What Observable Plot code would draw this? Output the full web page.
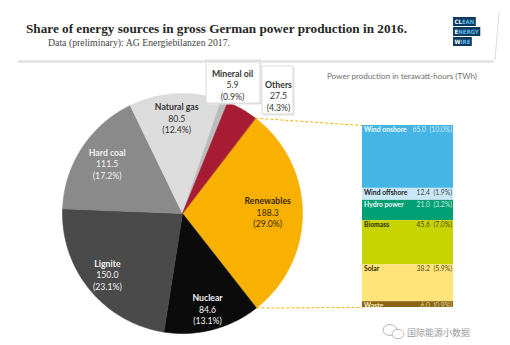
<!DOCTYPE html>
<html><head><meta charset="utf-8">
<script src="https://cdn.jsdelivr.net/npm/d3@7"></script>
<script src="https://cdn.jsdelivr.net/npm/@observablehq/plot@0.6"></script>
<style>
html,body{margin:0;padding:0;background:#fff;}
#wrap{position:relative;width:510px;height:345px;overflow:hidden;background:#fff;}
#wrap > svg{position:absolute;left:0;top:0;}
</style></head><body><div id="wrap"></div>
<script>
// ---------- data ----------
const sources = ["Renewables","Nuclear","Lignite","Hard coal","Natural gas","Mineral oil","Others"];
const sourceTWh = [188.3, 84.6, 150.0, 111.5, 80.5, 5.9, 27.5];
const sourcePct = [29.0, 13.1, 23.1, 17.2, 12.4, 0.9, 4.3];
const renewables = ["Wind onshore","Wind offshore","Hydro power","Biomass","Solar","Waste"];
const renewTWh = [65.0, 12.4, 21.0, 45.6, 38.2, 6.0];
const renewPct = [10.0, 1.9, 3.2, 7.0, 5.9, 0.9];
const titleText = "Share of energy sources in gross German power production in 2016.";
const subtitleText = "Data (preliminary): AG Energiebilanzen 2017.";
const unitText = "Power production in terawatt-hours (TWh)";
const watermarkText = "国际能源小数据";
const logoWords = ["CLEAN","ENERGY","WIRE"];

// ---------- layout & style ----------
const W = 510, H = 345;
const cx = 182, cy = 213, R = 120;
const startDeg = 37.4;
const pieColors = {"Renewables":"#f8b100","Nuclear":"#0b0b0b","Lignite":"#4a4a4a","Hard coal":"#8a8a8a",
  "Natural gas":"#dcdcdc","Mineral oil":"#bcbcbc","Others":"#a51c33"};
const pieText = {"Renewables":"#3b2a00","Nuclear":"#f2f2f2","Lignite":"#f2f2f2","Hard coal":"#f2f2f2",
  "Natural gas":"#333","Mineral oil":"#333","Others":"#333"};
const labelRadius = {"Renewables":0.71,"Nuclear":0.83,"Lignite":0.81,"Hard coal":0.75,"Natural gas":0.79};
const calloutCenter = {"Mineral oil":[232,85],"Others":[278,96]};
const calloutBox = {"Mineral oil":[206,260,60,103],"Others":[262,293,66,114]};
const barColors = {"Wind onshore":"#45b5e5","Wind offshore":"#c9e7f6","Hydro power":"#00a074","Biomass":"#c8d400",
  "Solar":"#ffe47a","Waste":"#8a6410"};
const barText = {"Wind onshore":"#eef8fd","Wind offshore":"#222","Hydro power":"#f2fbf7","Biomass":"#2a2a00",
  "Solar":"#2a2a00","Waste":"#f6ecc8"};
const sans = "Lato, 'Open Sans', sans-serif";

// ---------- scales ----------
const xPie = {domain:[-1,1], range:[cx-R, cx+R]};
const yPie = {domain:[-1,1], range:[cy+R, cy-R]};
const pieXs = Plot.scale({x: xPie}), pieYs = Plot.scale({y: yPie});
const totalR = d3.sum(renewTWh);
const xBar = {domain:[0,1], range:[362,453]};
const yBar = {domain:[0,totalR], range:[307,125]};
const barXs = Plot.scale({x: xBar}), barYs = Plot.scale({y: yBar});

// ---------- pie geometry ----------
const total = d3.sum(sourceTWh);
let acc = 0;
const slices = sources.map((name,i) => {
  const a0 = startDeg*Math.PI/180 + acc/total*2*Math.PI;
  acc += sourceTWh[i];
  const a1 = startDeg*Math.PI/180 + acc/total*2*Math.PI;
  return {name, value: sourceTWh[i], pct: sourcePct[i], a0, a1, mid:(a0+a1)/2};
});
const piePts = [];
slices.forEach(s => {
  piePts.push({name:s.name, x:0, y:0, fill:pieColors[s.name]});
  const n = Math.max(2, Math.ceil((s.a1-s.a0)/(Math.PI/180)));
  for (let k=0;k<=n;k++){
    const a = s.a0 + (s.a1-s.a0)*k/n;
    piePts.push({name:s.name, x:Math.sin(a), y:Math.cos(a), fill:pieColors[s.name]});
  }
});
const labels = slices.map(s => {
  let lx, ly;
  if (calloutCenter[s.name]) {
    lx = pieXs.invert(calloutCenter[s.name][0]); ly = pieYs.invert(calloutCenter[s.name][1]);
  } else {
    const r = labelRadius[s.name];
    lx = r*Math.sin(s.mid); ly = r*Math.cos(s.mid);
  }
  return {...s, lx, ly, color: pieText[s.name]};
});
const boxes = Object.entries(calloutBox).map(([name,[x1,x2,y1,y2]]) => ({name,
  x1:pieXs.invert(x1), x2:pieXs.invert(x2), y1:pieYs.invert(y1), y2:pieYs.invert(y2),
  sx1:pieXs.invert(x1+1.5), sx2:pieXs.invert(x2+1.5), sy1:pieYs.invert(y1+1.5), sy2:pieYs.invert(y2+1.5)}));

const wrap = document.getElementById("wrap");
const lh = 11.5;
const pie = Plot.plot({
  width:W, height:H, margin:0,
  x:{...xPie, axis:null}, y:{...yPie, axis:null},
  color:{type:"identity"},
  style:{background:"transparent", overflow:"visible"},
  marks:[
    Plot.line(piePts, {x:"x", y:"y", z:"name", fill:"fill", stroke:"fill", strokeWidth:0.6, curve:"linear-closed"}),
    Plot.rect(boxes, {x1:"sx1", x2:"sx2", y1:"sy1", y2:"sy2", fill:"#e4e4e4"}),
    Plot.rect(boxes, {x1:"x1", x2:"x2", y1:"y1", y2:"y2", fill:"#fff", stroke:"#d4d4d4", strokeWidth:0.8}),
    Plot.text(labels, {x:"lx", y:"ly", text:"name", fill:"color", fontWeight:"bold", fontSize:8.7, fontFamily:sans, dy:-lh}),
    Plot.text(labels, {x:"lx", y:"ly", text:d=>d.value.toFixed(1), fill:"color", fontSize:8.7, fontFamily:sans}),
    Plot.text(labels, {x:"lx", y:"ly", text:d=>`(${d.pct.toFixed(1)}%)`, fill:"color", fontSize:8.7, fontFamily:sans, dy:lh})
  ]
});
wrap.appendChild(pie);

// ---------- renewables bar ----------
const rows = renewables.map((name,i) => ({name, value:renewTWh[i], pct:renewPct[i], fill:barColors[name], tc:barText[name]}));
const renew = slices[0];
const toBar = a => ({x: barXs.invert(pieXs.apply(Math.sin(a))), y: barYs.invert(pieYs.apply(Math.cos(a)))});
const pTop = toBar(renew.a0), pBot = toBar(renew.a1);
const conn = [{x1:pTop.x, y1:pTop.y, x2:0, y2:totalR}, {x1:pBot.x, y1:pBot.y, x2:0, y2:0}];
const bar = Plot.plot({
  width:W, height:H, margin:0,
  x:{...xBar, axis:null}, y:{...yBar, axis:null},
  color:{type:"identity"},
  style:{background:"transparent", overflow:"visible"},
  marks:[
    Plot.link(conn, {x1:"x1", y1:"y1", x2:"x2", y2:"y2", stroke:"#f4b400", strokeWidth:1, strokeDasharray:"3,2"}),
    Plot.rectY(rows, Plot.stackY({x1:0, x2:1, y:"value", fill:"fill", reverse:true})),
    Plot.text(rows, Plot.stackY2({x:0, y:"value", reverse:true, text:"name", fill:"tc", fontWeight:"bold",
      fontSize:6.8, fontFamily:sans, textAnchor:"start", lineAnchor:"top", dx:1.5, dy:1.5})),
    Plot.text(rows, Plot.stackY2({x:1, y:"value", reverse:true, text:d=>`${d.value.toFixed(1)}  (${d.pct.toFixed(1)}%)`,
      fill:"tc", fillOpacity:0.85, fontSize:6.8, fontFamily:sans, textAnchor:"end", lineAnchor:"top", dx:-1.5, dy:1.5}))
  ]
});
wrap.appendChild(bar);

// ---------- header & decorations ----------
const svg = d3.select(wrap).append("svg").attr("width",W).attr("height",H);
svg.append("line").attr("x1",18).attr("x2",494).attr("y1",62).attr("y2",62).attr("stroke","#eaeaea").attr("stroke-width",2);
svg.append("line").attr("x1",18).attr("x2",494).attr("y1",61).attr("y2",61).attr("stroke","#cfcfcf").attr("stroke-width",0.8);
svg.append("line").attr("x1",499).attr("x2",495).attr("y1",12).attr("y2",60).attr("stroke","#d0d0d0").attr("stroke-width",0.8);
svg.append("text").attr("x",26).attr("y",33).attr("font-family","'Liberation Serif', serif").attr("font-weight","bold")
  .attr("font-size",12.5).attr("fill","#262626").attr("textLength",381).attr("lengthAdjust","spacingAndGlyphs").text(titleText);
svg.append("text").attr("x",48).attr("y",46).attr("font-family","'Liberation Serif', serif")
  .attr("font-size",9.5).attr("fill","#444").attr("textLength",182).attr("lengthAdjust","spacingAndGlyphs").text(subtitleText);
// logo
const logoSplit = [2,1,1];
logoWords.forEach((word,i) => {
  const y = 17 + i*10;
  const rect = svg.append("rect").attr("x",453).attr("y",y).attr("height",9).attr("fill","#0f3a5f");
  const t = svg.append("text").attr("x",454.5).attr("y",y+6.9).attr("font-family","'DejaVu Sans Condensed', 'DejaVu Sans', sans-serif")
    .attr("font-weight","bold").attr("font-size",6);
  t.append("tspan").attr("fill","#ffffff").text(word.slice(0,logoSplit[i]));
  t.append("tspan").attr("fill","#5ab8ea").text(word.slice(logoSplit[i]));
  rect.attr("width", t.node().getComputedTextLength() + 3);
});
svg.append("text").attr("x",327).attr("y",79).attr("font-family",sans).attr("font-size",7.4).attr("fill","#6e6e6e")
  .attr("textLength",150).attr("lengthAdjust","spacingAndGlyphs").text(unitText);
// watermark
svg.append("ellipse").attr("cx",390).attr("cy",330).attr("rx",7).attr("ry",5.5).attr("fill","#fff").attr("stroke","#b0b0b0").attr("stroke-width",0.9);
svg.append("ellipse").attr("cx",398).attr("cy",334).attr("rx",6).attr("ry",4.6).attr("fill","#fff").attr("stroke","#b0b0b0").attr("stroke-width",0.9);
svg.append("text").attr("x",407).attr("y",336).attr("font-family","'Noto Sans CJK SC', sans-serif").attr("font-size",9)
  .attr("fill","#9a9a9a").text(watermarkText);
</script></body></html>
